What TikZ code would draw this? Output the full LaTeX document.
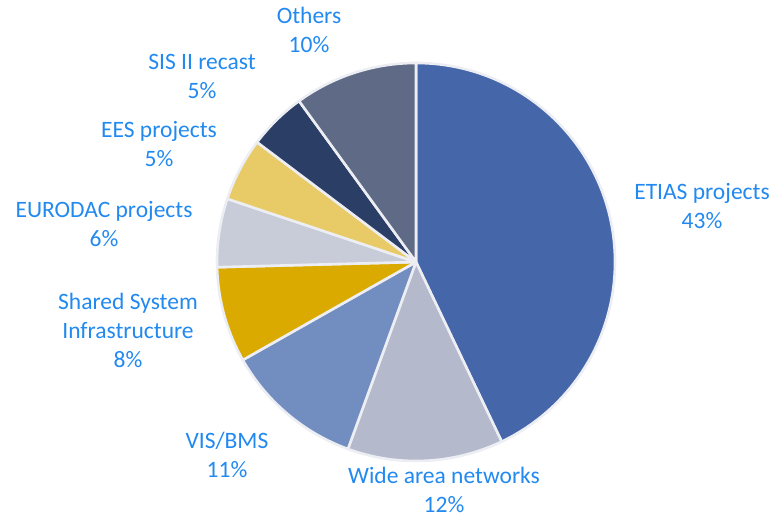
\documentclass[tikz,border=0pt]{standalone}
\usepackage{fontspec}
\setmainfont{Carlito}
\usetikzlibrary{calc}
\definecolor{lbl}{RGB}{33,137,240}
\definecolor{sep}{RGB}{236,238,243}
\definecolor{cEtias}{RGB}{69,103,169}
\definecolor{cWide}{RGB}{180,185,203}
\definecolor{cVis}{RGB}{114,141,191}
\definecolor{cShared}{RGB}{218,170,0}
\definecolor{cEurodac}{RGB}{200,204,216}
\definecolor{cEes}{RGB}{232,203,102}
\definecolor{cSis}{RGB}{43,62,102}
\definecolor{cOthers}{RGB}{94,106,134}
\tikzset{
  lab/.style={text=lbl, font=\fontsize{23.5}{29}\selectfont, align=center, inner sep=0pt, anchor=base},
  slice/.style={draw=sep, line width=2.6pt, line join=round}
}
\begin{document}
\begin{tikzpicture}[x=1pt,y=1pt]
\useasboundingbox (0,0) rectangle (776,521);
\coordinate (O) at (416,259);
\foreach \a/\b/\c in {90/-64.5/cEtias, -64.5/-110/cWide, -110/-150.5/cVis, -150.5/-178.5/cShared, -178.5/-198.5/cEurodac, -198.5/-217/cEes, -217/-234/cSis, -234/-270/cOthers}{
  \filldraw[slice, fill=\c] (O) -- ($(O)+(\a:199)$) arc[start angle=\a, end angle=\b, radius=199] -- cycle;
}
\node[lab] (etias) at (702,292) {ETIAS projects\\43\%};
\node[lab] (wide) at (444,8) {Wide area networks\\12\%};
\node[lab] (vis) at (227,43) {VIS/BMS\\11\%};
\node[lab] (shared) at (128,153) {Shared System\\Infrastructure\\8\%};
\node[lab] (eurodac) at (104,274) {EURODAC projects\\6\%};
\node[lab] (ees) at (159,354) {EES projects\\5\%};
\node[lab] (sis) at (202,422) {SIS II recast\\5\%};
\node[lab] (others) at (309,468) {Others\\10\%};
\end{tikzpicture}
\end{document}
